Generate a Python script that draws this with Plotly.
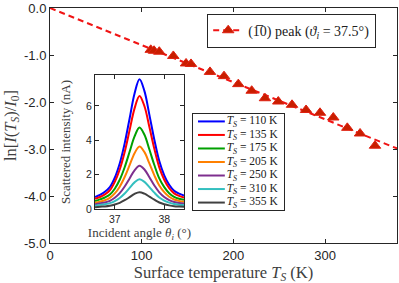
import plotly.graph_objects as go

# ---------------- data ----------------
# main panel: ln[I(Ts)/I0] vs surface temperature
T_data = [109.9, 113.5, 119.2, 134.5, 148.4, 153.8, 174.5, 189.8, 205.4, 220.0,
          234.5, 249.0, 264.0, 279.3, 294.5, 309.0, 324.3, 338.2, 354.5]
lnI_data = [-0.89, -0.91, -0.93, -1.02, -1.18, -1.19, -1.36, -1.45, -1.62, -1.76,
            -1.92, -1.99, -2.06, -2.17, -2.23, -2.33, -2.55, -2.67, -2.93]
fit_T = [0, 380]
fit_ln = [0.0, -3.0]

x_ticks = [0, 100, 200, 300]
y_ticks = [0, -1, -2, -3, -4, -5]
y_ticklabels = ["0.0", "-1.0", "-2.0", "-3.0", "-4.0", "-5.0"]

# inset: scattered intensity vs incident angle
angle = [36.6, 36.7, 36.8, 36.9, 37.0, 37.1, 37.2, 37.3, 37.4, 37.5,
         37.6, 37.7, 37.8, 37.9, 38.0, 38.1, 38.2, 38.3, 38.4]
I_110 = [0.70, 0.82, 1.00, 1.27, 1.82, 2.65, 3.82, 5.27, 6.72, 7.55, 6.86, 5.48, 4.03, 2.79, 1.96, 1.41, 1.06, 0.89, 0.79]
I_135 = [0.59, 0.70, 0.85, 1.09, 1.58, 2.30, 3.32, 4.59, 5.86, 6.58, 5.98, 4.77, 3.50, 2.42, 1.70, 1.21, 0.91, 0.76, 0.67]
I_175 = [0.47, 0.56, 0.67, 0.84, 1.18, 1.70, 2.43, 3.33, 4.23, 4.75, 4.32, 3.46, 2.56, 1.78, 1.27, 0.92, 0.71, 0.60, 0.54]
I_205 = [0.36, 0.43, 0.51, 0.65, 0.91, 1.30, 1.86, 2.55, 3.25, 3.64, 3.31, 2.65, 1.96, 1.37, 0.98, 0.71, 0.55, 0.47, 0.42]
I_250 = [0.27, 0.33, 0.38, 0.47, 0.65, 0.92, 1.31, 1.78, 2.25, 2.52, 2.30, 1.85, 1.37, 0.97, 0.70, 0.52, 0.41, 0.35, 0.32]
I_310 = [0.19, 0.24, 0.28, 0.34, 0.46, 0.64, 0.90, 1.23, 1.55, 1.73, 1.58, 1.27, 0.95, 0.67, 0.49, 0.37, 0.29, 0.25, 0.23]
I_355 = [0.10, 0.13, 0.15, 0.19, 0.26, 0.36, 0.51, 0.69, 0.88, 0.98, 0.89, 0.72, 0.54, 0.38, 0.28, 0.21, 0.16, 0.14, 0.13]
inset_series = [I_110, I_135, I_175, I_205, I_250, I_310, I_355]
inset_temps = ["110", "135", "175", "205", "250", "310", "355"]
inset_colors = ["#0000ff", "#ff0000", "#00a000", "#ff8000", "#7e2f8e", "#33bfbf", "#404040"]

# ---------------- figure ----------------
AX = "#262626"
SERIF = "Liberation Serif"
SANS = "Arial"

fig = go.Figure()

fig.add_trace(go.Scatter(
    x=fit_T, y=fit_ln, mode="lines", showlegend=False,
    line=dict(color="#f01414", width=2, dash="6px,4px"),
    xaxis="x", yaxis="y"))
fig.add_trace(go.Scatter(
    x=T_data, y=lnI_data, mode="markers", showlegend=False,
    marker=dict(symbol="triangle-up", size=10, color="#c81e00",
                line=dict(color="#e02010", width=1)),
    xaxis="x", yaxis="y"))
fig.add_trace(go.Scatter(
    x=[None], y=[None], mode="lines+markers",
    name="(1\u03050) peak (<i>\u03d1</i><sub><i>i</i></sub> = 37.5\u00b0)",
    line=dict(color="#f01414", width=2, dash="6px,4px"),
    marker=dict(symbol="triangle-up", size=10, color="#c81e00",
                line=dict(color="#e02010", width=1)),
    legend="legend", xaxis="x", yaxis="y"))

for ser, col in zip(inset_series, inset_colors):
    fig.add_trace(go.Scatter(
        x=angle, y=ser, mode="lines", line=dict(color=col, width=2, shape="spline"),
        showlegend=False, xaxis="x2", yaxis="y2"))

# compact key for the inset (drawn in its own small axes box)
rows = list(range(len(inset_temps)))
for r, col in zip(rows, inset_colors):
    fig.add_trace(go.Scatter(
        x=[0.055, 0.35], y=[r, r], mode="lines", line=dict(color=col, width=2),
        showlegend=False, hoverinfo="skip", xaxis="x3", yaxis="y3"))
fig.add_trace(go.Scatter(
    x=[0.37] * len(rows), y=rows, mode="text",
    text=["<i>T</i><sub><i>S</i></sub> = " + t + " K" for t in inset_temps],
    textposition="middle right",
    textfont=dict(family=SERIF, size=11.5, color="#202020"),
    showlegend=False, hoverinfo="skip", xaxis="x3", yaxis="y3"))

axis_common = dict(showline=True, linecolor=AX, linewidth=1, mirror="ticks",
                   ticks="inside", ticklen=4, tickcolor=AX, showgrid=False,
                   zeroline=False)

fig.update_layout(
    width=399, height=283,
    margin=dict(l=50, r=2, t=8, b=40),
    paper_bgcolor="white", plot_bgcolor="white",
    xaxis=dict(**axis_common, domain=[0, 1], range=[0, 378.5],
               tickvals=x_ticks, ticktext=[str(v) for v in x_ticks],
               tickfont=dict(family=SANS, size=13, color=AX),
               title=dict(text="Surface temperature <i>T</i><sub><i>S</i></sub> (K)",
                          font=dict(family=SERIF, size=16.5, color="#404040"), standoff=7),
               anchor="y"),
    yaxis=dict(**axis_common, domain=[0, 1], range=[-5, 0],
               tickvals=y_ticks, ticktext=y_ticklabels,
               tickfont=dict(family=SANS, size=13, color=AX),
               title=dict(text="ln[<i>I</i>(<i>T</i><sub><i>S</i></sub>)/<i>I</i><sub>0</sub>]",
                          font=dict(family=SERIF, size=16.5, color="#404040"), standoff=3),
               anchor="x"),
    xaxis2=dict(**axis_common, domain=[0.1297, 0.3862], range=[36.6, 38.4],
                tickvals=[37, 38], ticktext=["37", "38"],
                tickfont=dict(family=SANS, size=10.5, color=AX),
                title=dict(text="Incident angle <i>\u03b8</i><sub><i>i</i></sub> (\u00b0)",
                           font=dict(family=SERIF, size=13, color="#404040"), standoff=4),
                anchor="y2"),
    yaxis2=dict(**axis_common, domain=[0.1447, 0.7149], range=[0, 7.8],
                tickvals=[0, 2, 4, 6], ticktext=["0", "2", "4", "6"],
                tickfont=dict(family=SANS, size=10.5, color=AX),
                title=dict(text="Scattered intensity (nA)",
                           font=dict(family=SERIF, size=13, color="#404040"), standoff=12),
                anchor="x2"),
    xaxis3=dict(domain=[0.412, 0.6744], range=[0, 1], showline=True, linecolor=AX,
                linewidth=1, mirror=True, ticks="", showticklabels=False,
                showgrid=False, zeroline=False, fixedrange=True, anchor="y3"),
    yaxis3=dict(domain=[0.1404, 0.549], range=[6.55, -0.55], showline=True, linecolor=AX,
                linewidth=1, mirror=True, ticks="", showticklabels=False,
                showgrid=False, zeroline=False, fixedrange=True, anchor="x3"),
    legend=dict(x=0.453, y=0.976, xanchor="left", yanchor="top",
                bgcolor="white", bordercolor=AX, borderwidth=1,
                font=dict(family=SERIF, size=14, color="#202020")),
)

fig.write_html("out.html", config={"displayModeBar": False},
               post_script="document.body.style.margin='0';document.body.style.overflow='hidden';")
